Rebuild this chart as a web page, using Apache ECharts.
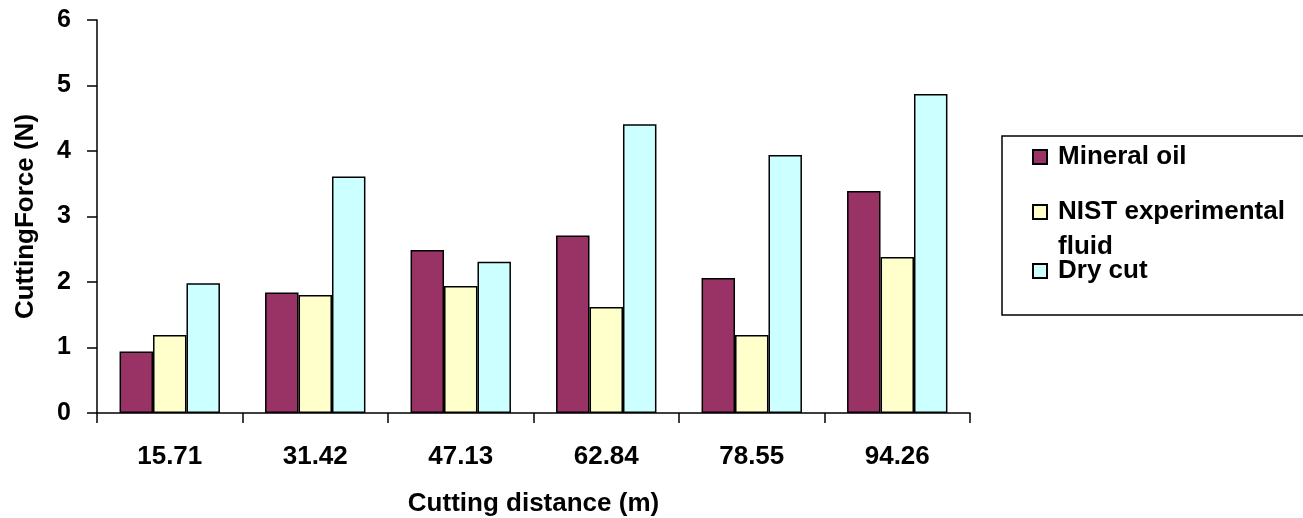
<!DOCTYPE html>
<html><head><meta charset="utf-8">
<script src="https://cdn.jsdelivr.net/npm/echarts@6/dist/echarts.min.js"></script>
<style>html,body{margin:0;padding:0;background:#fff}#c{width:1303px;height:518px}</style>
</head><body><div id="c"></div>
<script>
const categories = ['15.71', '31.42', '47.13', '62.84', '78.55', '94.26'];
const mineralOil = [0.94, 1.84, 2.49, 2.71, 2.06, 3.39];
const nistFluid = [1.19, 1.80, 1.94, 1.62, 1.19, 2.38];
const dryCut = [1.98, 3.61, 2.31, 4.41, 3.94, 4.87];
const yTicks = [0, 1, 2, 3, 4, 5, 6];
const seriesNames = ['Mineral oil', 'NIST experimental fluid', 'Dry cut'];
const colors = ['#993366', '#FFFFCC', '#CCFFFF'];

const FONT = '"Liberation Sans", Arial, sans-serif';
const fs = 26;
const chart = echarts.init(document.getElementById('c'));
const mkSeries = (name, data, color) => ({
  name, type: 'bar', data, barGap: '0%', barCategoryGap: '31%',
  itemStyle: { color, borderColor: '#000', borderWidth: 1.5 },
  emphasis: { disabled: true }
});
const legendTxt = { fontFamily: FONT, fontWeight: 'bold', fontSize: fs, color: '#000', lineHeight: 28, padding: [0, 0, 0, 6] };
const mkLegend = (name, top, fmt) => ({
  data: [name], left: 1032, top, padding: 0, itemWidth: 14, itemHeight: 14,
  icon: 'rect', selectedMode: false, textStyle: legendTxt,
  formatter: fmt || (n => n)
});
chart.setOption({
  animation: false,
  textStyle: { fontFamily: FONT },
  grid: { left: 97, right: 333, top: 20, bottom: 105, containLabel: false, outerBoundsMode: 'none' },
  legend: [
    mkLegend(seriesNames[0], 143),
    mkLegend(seriesNames[1], 198, () => 'NIST experimental'),
    mkLegend(seriesNames[2], 257)
  ],
  graphic: [
    { type: 'rect', shape: { x: 1002, y: 136, width: 330, height: 179 },
      style: { fill: null, stroke: '#000', lineWidth: 1.5 }, silent: true },
    { type: 'text', left: 1058, top: 233,
      style: { text: 'fluid', font: 'bold ' + fs + 'px ' + FONT, fill: '#000', lineHeight: 28 }, silent: true }
  ],
  xAxis: {
    type: 'category', data: categories,
    name: 'Cutting distance (m)', nameLocation: 'middle', nameGap: 77,
    nameTextStyle: { fontFamily: FONT, fontWeight: 'bold', fontSize: fs, color: '#000', lineHeight: 28 },
    axisLine: { lineStyle: { color: '#000', width: 1.5 } },
    axisTick: { show: true, length: 10, lineStyle: { color: '#000', width: 1.5 } },
    axisLabel: { margin: 30, fontFamily: FONT, fontWeight: 'bold', fontSize: fs, color: '#000', lineHeight: 28 },
    splitLine: { show: false }
  },
  yAxis: {
    type: 'value', min: yTicks[0], max: yTicks[yTicks.length - 1], interval: 1,
    name: 'CuttingForce (N)', nameLocation: 'middle', nameGap: 56, nameRotate: 90,
    nameTextStyle: { fontFamily: FONT, fontWeight: 'bold', fontSize: fs, color: '#000', lineHeight: 30 },
    axisLine: { show: true, lineStyle: { color: '#000', width: 1.5 } },
    axisTick: { show: true, length: 10, lineStyle: { color: '#000', width: 1.5 } },
    axisLabel: { margin: 26, fontFamily: FONT, fontWeight: 'bold', fontSize: 25, color: '#000' },
    splitLine: { show: false }
  },
  series: [
    mkSeries(seriesNames[0], mineralOil, colors[0]),
    mkSeries(seriesNames[1], nistFluid, colors[1]),
    mkSeries(seriesNames[2], dryCut, colors[2])
  ]
});
</script></body></html>
